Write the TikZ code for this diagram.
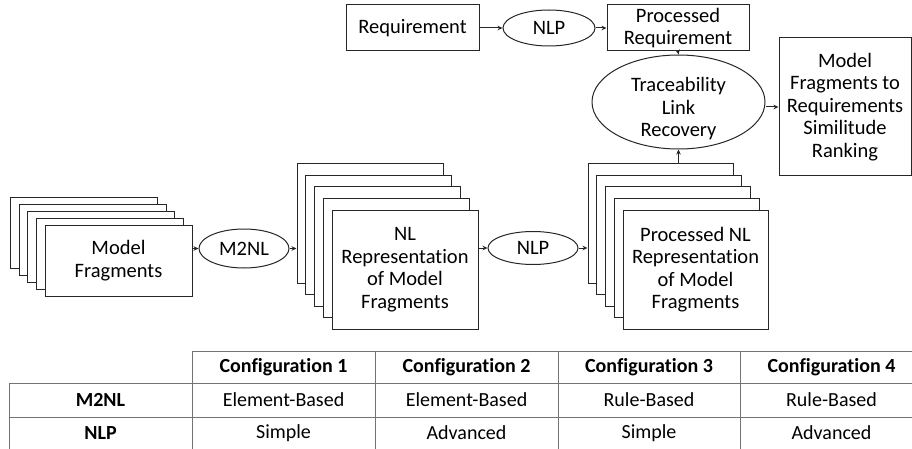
\documentclass[tikz,border=0pt]{standalone}
\usepackage{fontspec}
\setmainfont{Carlito}[Ligatures=NoCommon]
\usetikzlibrary{arrows.meta,shapes.geometric,calc}
\begin{document}
\begin{tikzpicture}[x=1pt,y=-1pt,
 every node/.style={font=\fontsize{20.5}{22.5}\selectfont},
 box/.style={draw=black!85, line width=1pt, fill=white, inner sep=0pt, align=center},
 oval/.style={draw=black!85, line width=1pt, fill=white, ellipse, inner sep=0pt, align=center},
 arr/.style={draw=black!85, line width=1pt, -{Stealth[length=5pt,width=4.5pt]}},
 grid/.style={draw=black!55, line width=1pt},
 cell/.style={font=\fontsize{20}{22}\selectfont},
 hcell/.style={font=\fontsize{20}{22}\selectfont\bfseries}]
\useasboundingbox (0,0) rectangle (912,449);

% top row
\node[box, minimum width=133pt, minimum height=46pt] (req) at (412.5,28) {Requirement};
\node[oval, minimum width=92pt, minimum height=36pt] (nlpa) at (549,28) {NLP};
\node[box, minimum width=142pt, minimum height=46pt] (preq) at (678,28) {Processed\\Requirement};
\node[oval, minimum width=173pt, minimum height=94pt,
  label={[align=center,yshift=-7pt,font=\fontsize{20.5}{22.5}\selectfont]center:Traceability\\Link\\Recovery}] (trace) at (678.5,102) {};
\node[box, minimum width=132pt, minimum height=138pt] (rank) at (845,107) {Model\\Fragments to\\Requirements\\Similitude\\Ranking};

% model fragments stack
\foreach \k in {4,3,2,1}
  \node[box, minimum width=147pt, minimum height=71pt] (mf\k) at ({118.5-8.6*\k},{260.5-7*\k}) {};
\node[box, minimum width=147pt, minimum height=71pt] (mf0) at (118.5,260.5) {Model\\Fragments};

\node[oval, minimum width=90pt, minimum height=39pt] (m2nl) at (244,248.5) {M2NL};

% NL representation stack
\foreach \k in {4,3,2,1}
  \node[box, minimum width=146pt, minimum height=119pt] (nl\k) at ({405-8.75*\k},{269.5-11.5*\k}) {};
\node[box, minimum width=146pt, minimum height=119pt] (nl0) at (405,269.5) {NL\\Representation\\of Model\\Fragments};

\node[oval, minimum width=90pt, minimum height=33pt] (nlpb) at (533,248) {NLP};

% processed NL stack
\foreach \k in {4,3,2,1}
  \node[box, minimum width=145pt, minimum height=119pt] (pnl\k) at ({695.5-8.75*\k},{269.5-11.5*\k}) {};
\node[box, minimum width=145pt, minimum height=119pt] (pnl0) at (695.5,269.5) {Processed NL\\Representation\\of Model\\Fragments};

% connectors
\draw[arr] (req.east) -- (nlpa.west);
\draw[arr] (nlpa.east) -- (preq.west);
\draw[arr] (preq.south) -- (trace.north);
\draw[arr] (rank.west -| trace.east) -- (rank.west);
\draw[arr] (m2nl.west -| mf0.east) -- (m2nl.west);
\draw[arr] (m2nl.east) -- (m2nl.east -| nl4.west);
\draw[arr] (nlpb.west -| nl0.east) -- (nlpb.west);
\draw[arr] (nlpb.east) -- (nlpb.east -| pnl4.west);
\draw[arr] (trace.south |- pnl4.north) -- (trace.south);

% table
\draw[grid] (192,351) -- (912,351);
\draw[grid] (9,383) -- (912,383);
\draw[grid] (9,417) -- (912,417);
\draw[grid] (9,383) -- (9,449);
\foreach \x in {192,375,558,740}
  \draw[grid] (\x,351) -- (\x,449);

\node[hcell] (c1) at (283.5,367) {Configuration 1};
\node[hcell] (c2) at (466.5,367) {Configuration 2};
\node[hcell] (c3) at (649,367) {Configuration 3};
\node[hcell] (c4) at (831.5,367) {Configuration 4};
\node[hcell] (r1) at (100.5,400) {M2NL};
\node[hcell] (r2) at (100.5,433) {NLP};
\node[cell] (a1) at (283.5,400) {Element-Based};
\node[cell] (a2) at (466.5,400) {Element-Based};
\node[cell] (a3) at (649,400) {Rule-Based};
\node[cell] (a4) at (831.5,400) {Rule-Based};
\node[cell] (b1) at (283.5,433) {Simple};
\node[cell] (b2) at (466.5,433) {Advanced};
\node[cell] (b3) at (649,433) {Simple};
\node[cell] (b4) at (831.5,433) {Advanced};
\end{tikzpicture}
\end{document}
